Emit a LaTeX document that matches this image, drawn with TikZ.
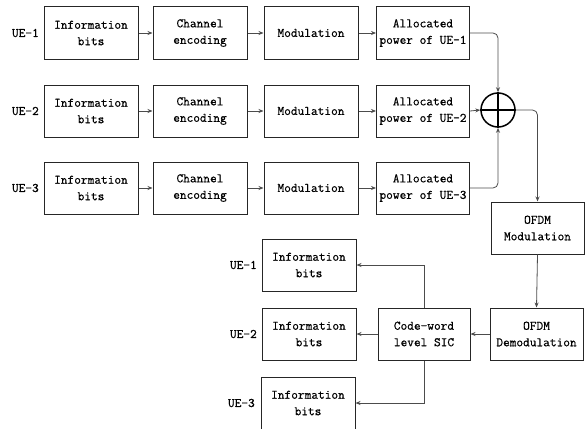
\documentclass[tikz,border=0pt]{standalone}
\usepackage{fontspec}
\newfontfamily\diafont[FakeBold=0.6]{Latin Modern Mono}
\usetikzlibrary{arrows.meta}
\begin{document}
\begin{tikzpicture}[x=1pt,y=-1pt,
  blk/.style={draw=black!85,line width=1pt,minimum width=94pt,minimum height=52pt,inner sep=0pt,
    align=center,font=\diafont\fontsize{13}{16.5}\selectfont},
  lbl/.style={font=\diafont\fontsize{13}{14}\selectfont,inner sep=0pt},
  arr/.style={draw=black!70,line width=0.8pt,-{Stealth[length=5pt,width=4pt]}},
  rarr/.style={arr,rounded corners=5pt}]
\useasboundingbox (0,0) rectangle (585,428);
% rows
\foreach \r/\y in {1/33,2/111,3/188}{
  \node[blk] (ib\r) at (91,\y) {Information\\bits};
  \node[blk] (ce\r) at (200,\y) {Channel\\encoding};
  \node[blk] (mo\r) at (311,\y) {Modulation};
  \node[blk,minimum width=93pt] (ap\r) at (423,\y) {Allocated\\power of UE-\r};
  \node[lbl,anchor=east] (ue\r) at (39,\y) {UE-\r};
  \draw[arr] (ib\r) -- (ce\r);
  \draw[arr] (ce\r) -- (mo\r);
  \draw[arr] (mo\r) -- (ap\r);
}
% adder
\node[circle,draw=black,line width=1.5pt,minimum size=34pt,inner sep=0pt] (sum) at (498,110) {};
\draw[black,line width=1.5pt] (sum.north) -- (sum.south) (sum.west) -- (sum.east);
\draw[rarr] (ap1.east) -| (sum.north);
\draw[arr] (ap2.east) -- (sum.west);
\draw[rarr] (ap3.east) -| (sum.south);
% OFDM
\node[blk,minimum width=93pt] (om) at (537.5,228) {OFDM\\Modulation};
\node[blk,minimum width=93pt] (od) at (536.5,334) {OFDM\\Demodulation};
\draw[rarr] (sum.east) -| (om.north);
\draw[arr] (om.south) -- (od.north);
% receiver
\node[blk,minimum width=92pt] (sic) at (424,334) {Code-word\\level SIC};
\draw[arr] (od.west) -- (sic.east);
\node[blk] (rb1) at (309,265) {Information\\bits};
\node[blk] (rb2) at (309,334) {Information\\bits};
\node[blk] (rb3) at (308,403) {Information\\bits};
\node[lbl,anchor=east] (ru1) at (257,265) {UE-1};
\node[lbl,anchor=east] (ru2) at (257,334) {UE-2};
\node[lbl,anchor=east] (ru3) at (255,403) {UE-3};
\draw[arr] (sic.north) |- (rb1.east);
\draw[arr] (sic.west) -- (rb2.east);
\draw[arr] (sic.south) |- (rb3.east);
\end{tikzpicture}
\end{document}
